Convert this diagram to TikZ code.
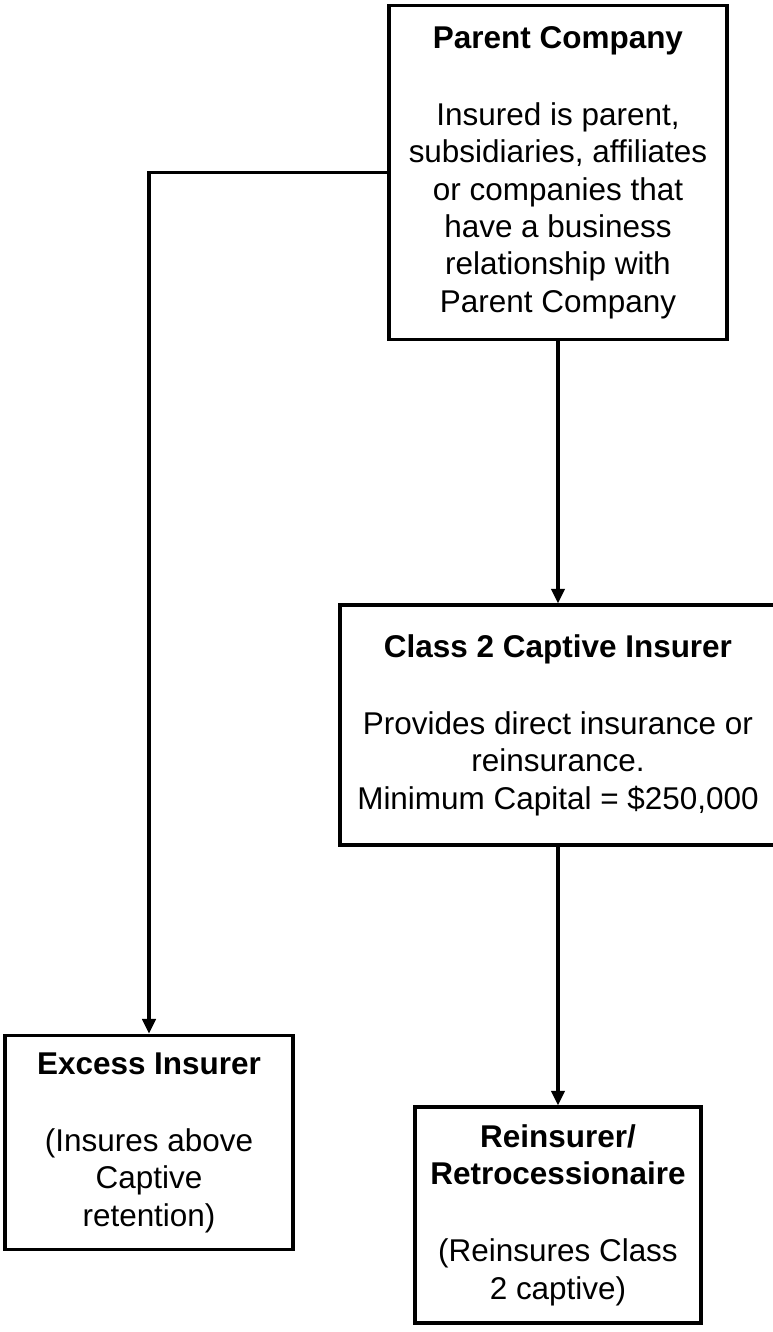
\documentclass[tikz,border=0pt]{standalone}
\usepackage{fontspec}
\setmainfont{Liberation Sans}
\usetikzlibrary{arrows.meta}
\tikzset{
  panel/.style={draw, line width=2.3pt, align=center, inner sep=0pt,
    font=\fontsize{23.6}{28}\selectfont},
  flow/.style={line width=2.3pt, -{Triangle[width=10pt,length=11pt]}}
}
\begin{document}
\begin{tikzpicture}[x=0.75pt,y=-0.75pt]
  \useasboundingbox (0,0) rectangle (772,1332);
  \node[panel, minimum width=253.5pt, minimum height=251pt] (parent) at (558,172.5)
    {\textbf{Parent Company}\\[30pt] Insured is parent,\\ subsidiaries, affiliates\\
     or companies that\\ have a business\\ relationship with\\ Parent Company};
  \node[panel, minimum width=327pt, minimum height=180pt] (captive) at (558,725)
    {\textbf{Class 2 Captive Insurer}\\[30pt] Provides direct insurance or\\
     reinsurance.\\ Minimum Capital = \$250,000};
  \node[panel, minimum width=216pt, minimum height=161pt] (excess) at (149,1142.5)
    {\textbf{Excess Insurer}\\[30pt] (Insures above\\ Captive\\ retention)};
  \node[panel, minimum width=214.5pt, minimum height=162pt] (reins) at (558,1215)
    {\textbf{Reinsurer/}\\ \textbf{Retrocessionaire}\\[30pt] (Reinsures Class\\ 2 captive)};
  \draw[flow] (parent) -- (captive); \draw[flow] (captive) -- (reins);
  \draw[flow] (parent.west) -| (excess.north);
\end{tikzpicture}
\end{document}
